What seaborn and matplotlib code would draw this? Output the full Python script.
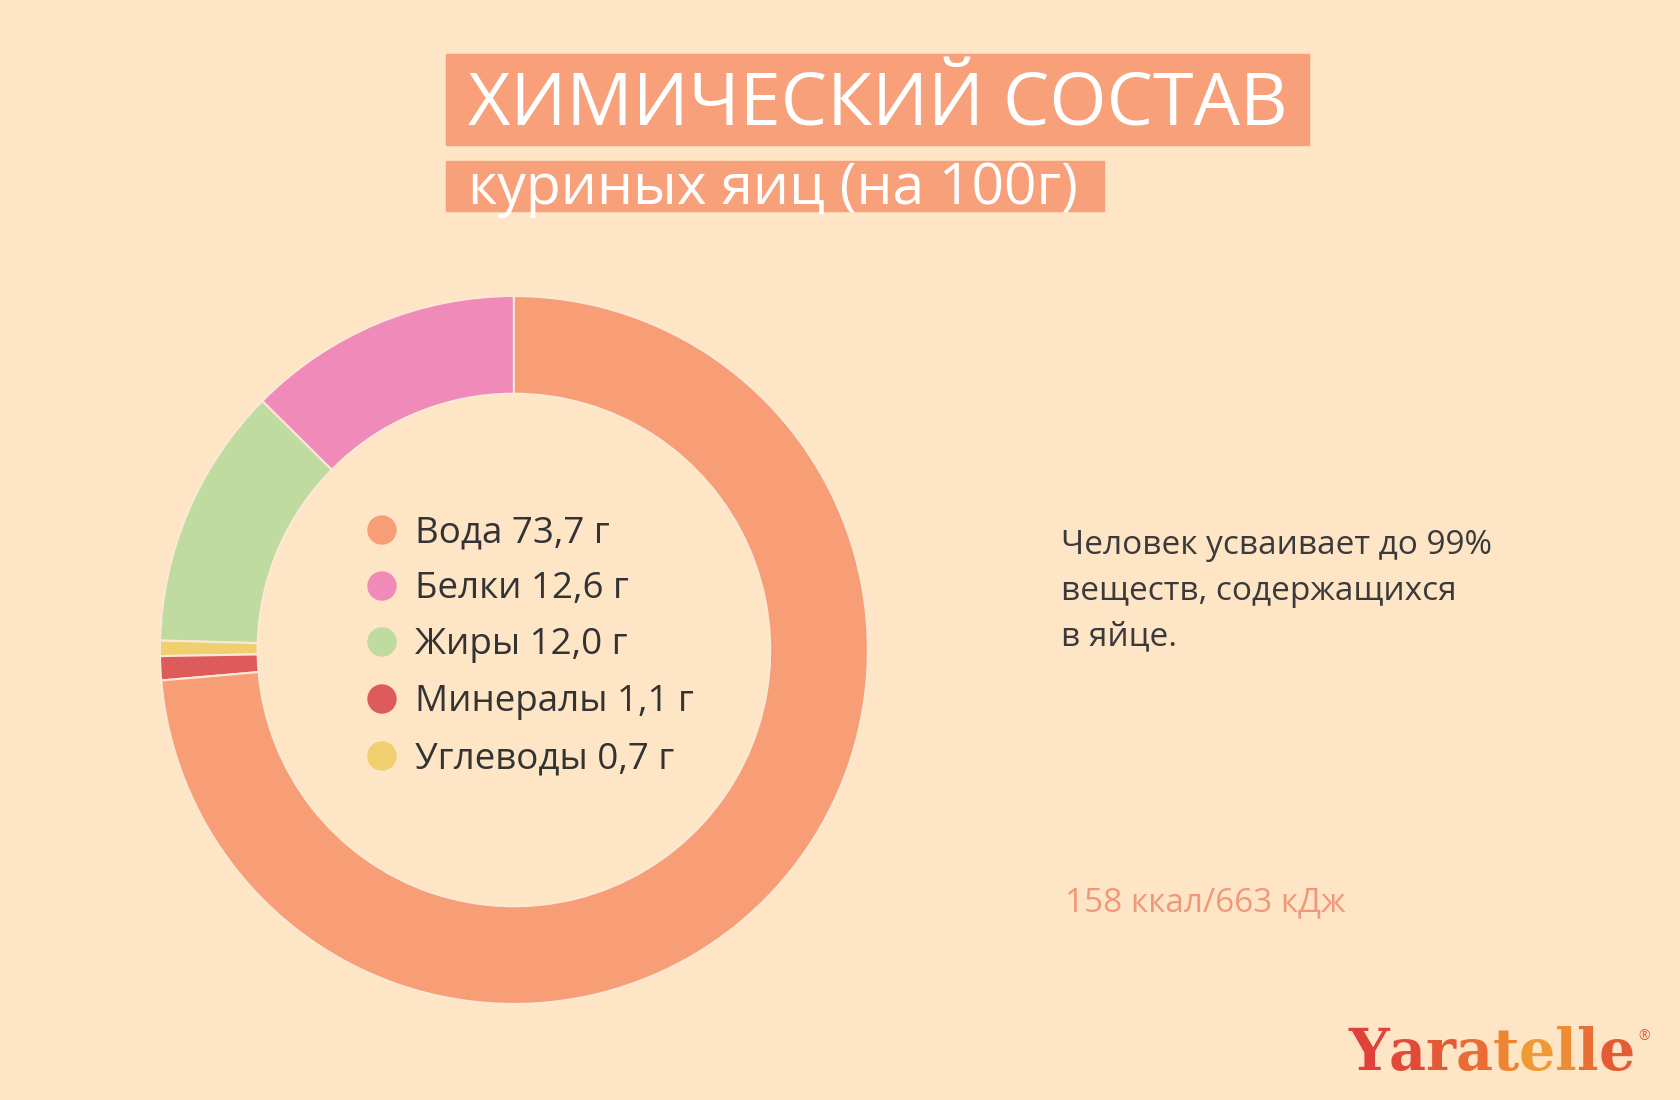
import matplotlib
matplotlib.use("Agg")
import matplotlib.pyplot as plt
import matplotlib.patches as mpatches
import seaborn as sns

# Composition of chicken eggs per 100 g
nutrients = ["Вода", "Белки", "Жиры", "Минералы", "Углеводы"]
grams = [73.7, 12.6, 12.0, 1.1, 0.7]
labels = ["Вода 73,7 г", "Белки 12,6 г", "Жиры 12,0 г", "Минералы 1,1 г", "Углеводы 0,7 г"]
colors = ["#F79E76", "#F08AB8", "#BFDBA0", "#DE5B5B", "#F0CF6E"]
# order of slices counter-clockwise from the top
pie_order = ["Белки", "Жиры", "Углеводы", "Минералы", "Вода"]

bg = "#FEE5C6"
title_box = "#F7A07A"

sns.set_theme(style="white")
plt.rcParams["font.family"] = ["Open Sans", "DejaVu Sans"]

fig = plt.figure(figsize=(16.8, 11), dpi=100, facecolor=bg)

# donut
ax = fig.add_axes([0.0952, 0.0873, 0.4214, 0.6436])
ax.set_facecolor(bg)
idx = [nutrients.index(n) for n in pie_order]
ax.pie([grams[i] for i in idx], colors=[colors[i] for i in idx],
       startangle=90, counterclock=True, radius=1.0,
       wedgeprops=dict(width=0.276, edgecolor="#FBE9D6", linewidth=1.5))
ax.set_xlim(-1, 1)
ax.set_ylim(-1, 1)
ax.set_aspect("equal")
ax.axis("off")

# legend inside the ring
leg_y = [533, 589, 645, 702, 759]
for lab, col, y in zip(labels, colors, leg_y):
    fy = 1 - y / 1100
    fig.patches.append(mpatches.Ellipse((382 / 1680, fy + 3 / 1100), 28 / 1680, 28 / 1100,
                                        transform=fig.transFigure, color=col))
    fig.text(415 / 1680, fy, lab, fontsize=26.5, color="#333333", va="center", ha="left")

# title blocks
fig.patches.append(mpatches.Rectangle((446 / 1680, 1 - 145 / 1100), 863 / 1680, 91 / 1100,
                                      transform=fig.transFigure, color=title_box))
fig.patches.append(mpatches.Rectangle((446 / 1680, 1 - 211 / 1100), 658 / 1680, 50 / 1100,
                                      transform=fig.transFigure, color=title_box))
fig.text(468 / 1680, 1 - 106 / 1100, "ХИМИЧЕСКИЙ СОСТАВ", fontsize=53, color="white",
         va="center", ha="left")
fig.text(468 / 1680, 1 - 189 / 1100, "куриных яиц (на 100г)", fontsize=41, color="white",
         va="center", ha="left")

# side notes
fig.text(1061 / 1680, 1 - 591 / 1100,
         "Человек усваивает до 99%\nвеществ, содержащихся\nв яйце.",
         fontsize=24, color="#3A3A3A", va="center", ha="left", linespacing=1.52)
fig.text(1065 / 1680, 1 - 903 / 1100, "158 ккал/663 кДж", fontsize=24,
         color="#F0987A", va="center", ha="left")

# logo with a red-to-orange letter gradient
logo = "Yaratelle"
logo_colors = ["#E0413A", "#E24A38", "#E45A36", "#E86C34", "#EC8432",
               "#F09A35", "#EE8C33", "#E87034", "#E45C36"]
renderer = fig.canvas.get_renderer()
x_px = 1348
base_y = 1 - 1070 / 1100
for ch, col in zip(logo, logo_colors):
    t = fig.text(x_px / 1680, base_y, ch, fontsize=41, fontweight="heavy",
                 family=["DejaVu Serif"], color=col, va="baseline", ha="left")
    x_px += t.get_window_extent(renderer).width
fig.text((x_px + 3) / 1680, base_y + 30 / 1100, "®", fontsize=10, color="#E45C36",
         va="baseline", ha="left")

fig.savefig("out.png", dpi=100, facecolor=bg)
